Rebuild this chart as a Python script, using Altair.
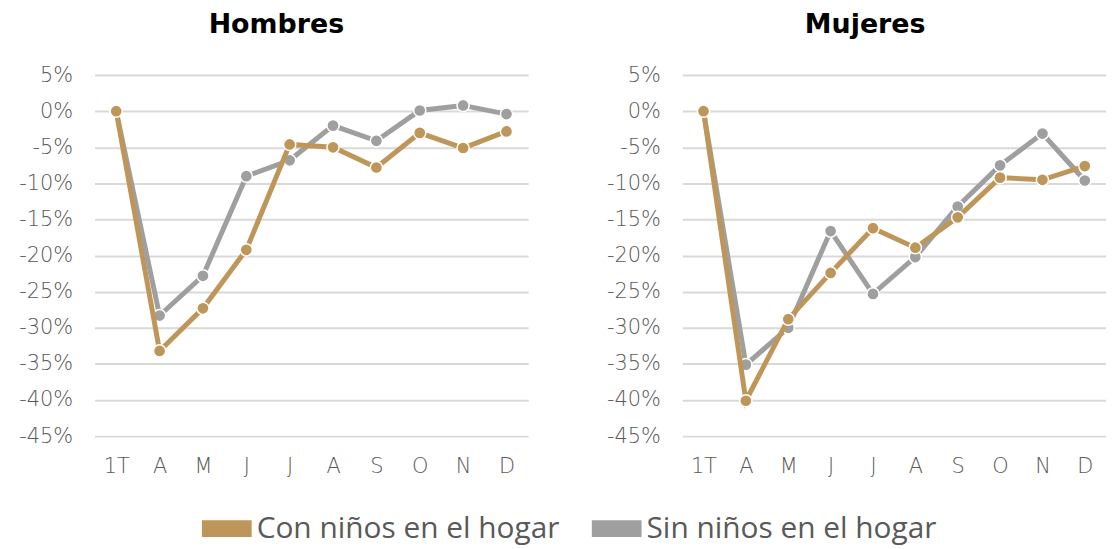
import altair as alt
import pandas as pd

months = ["1T", "A", "M", "J", "J", "A", "S", "O", "N", "D"]
series_names = ["Con niños en el hogar", "Sin niños en el hogar"]

hombres_con = [0.0, -33.2, -27.3, -19.2, -4.6, -5.0, -7.8, -3.0, -5.1, -2.8]
hombres_sin = [0.0, -28.3, -22.8, -9.0, -6.8, -2.0, -4.1, 0.1, 0.8, -0.4]
mujeres_con = [0.0, -40.1, -28.8, -22.4, -16.2, -18.9, -14.7, -9.2, -9.5, -7.6]
mujeres_sin = [0.0, -35.1, -30.0, -16.6, -25.3, -20.2, -13.2, -7.5, -3.1, -9.6]

y_ticks = [5, 0, -5, -10, -15, -20, -25, -30, -35, -40, -45]

COL_CON = "#BF9659"
COL_SIN = "#A09FA0"
LABEL_FONT = "DejaVu Sans"
LABEL_COLOR = "#595959"


def frame(vals, name):
    return pd.DataFrame({
        "i": list(range(len(months))),
        "v": [x / 100 for x in vals],
        "serie": [name] * len(vals),
    })


month_expr = "[" + ",".join("'" + m + "'" for m in months) + "][datum.value]"

color_scale = alt.Scale(domain=series_names, range=[COL_CON, COL_SIN])


def panel(title, con_vals, sin_vals, width, dx):
    x = alt.X(
        "i:O",
        scale=alt.Scale(type="point", padding=0.5),
        axis=alt.Axis(title=None, labelExpr=month_expr, labelAngle=0, domain=False,
                      ticks=False, grid=False, labelPadding=20),
    )
    y = alt.Y(
        "v:Q",
        scale=alt.Scale(domain=[-0.45, 0.05], nice=False, zero=False),
        axis=alt.Axis(title=None, values=[t / 100 for t in y_ticks],
                      labelExpr="replace(format(datum.value, '.0%'), '\u2212', '-')",
                      domain=False, ticks=False, grid=True, labelPadding=22),
    )
    layers = []
    for vals, name, col in [(sin_vals, series_names[1], COL_SIN), (con_vals, series_names[0], COL_CON)]:
        df = frame(vals, name)
        line = alt.Chart(df).mark_line(strokeWidth=5, color=col).encode(x=x, y=y)
        pts = alt.Chart(df).mark_circle(size=150, opacity=1, stroke="white", strokeWidth=1.5).encode(
            x=x, y=y,
            color=alt.Color("serie:N", scale=color_scale, title=None),
        )
        layers += [line, pts]
    return alt.layer(*layers).properties(
        width=width,
        height=363,
        title=alt.TitleParams(title, anchor="middle", frame="bounds", dx=dx, fontSize=27,
                              font="DejaVu Sans", fontWeight="bold", color="#000000", offset=25),
    )


left = panel("Hombres", hombres_con, hombres_sin, 436, 3)
right = panel("Mujeres", mujeres_con, mujeres_sin, 426, 9)

chart = alt.hconcat(left, right, spacing=78).properties(
    padding={"left": 10, "top": 2, "right": 0, "bottom": 0}
).configure_view(stroke=None).configure_axis(
    labelFont=LABEL_FONT, labelFontSize=21, labelFontWeight=200, labelColor=LABEL_COLOR,
    gridColor="#D9D9D9", gridWidth=2,
).configure_legend(
    orient="none", direction="horizontal", legendX=108, legendY=431,
    symbolType="M-1,-0.34L1,-0.34L1,0.34L-1,0.34Z", symbolSize=2500,
    symbolStrokeWidth=0, symbolOpacity=1,
    labelFont="Open Sans", labelFontSize=30, labelColor=LABEL_COLOR, labelOffset=5,
    columnPadding=32, labelLimit=400,
)

chart.save("out.html", embed_options={"renderer": "svg", "actions": False})
